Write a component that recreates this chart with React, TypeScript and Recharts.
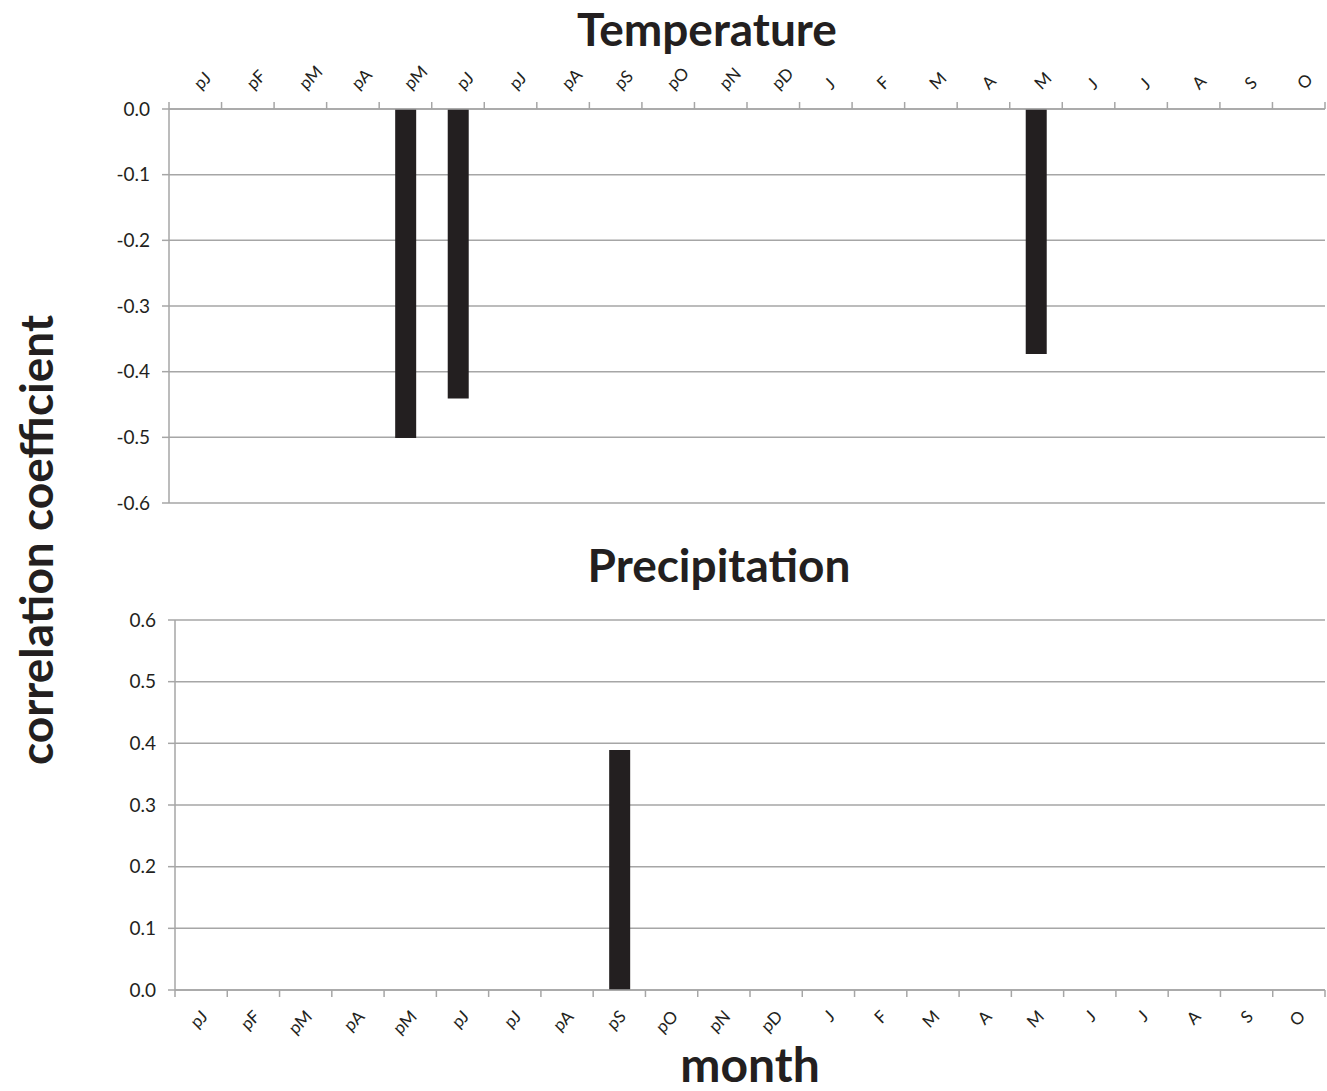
import { BarChart, Bar, XAxis, YAxis, CartesianGrid } from "recharts";

const months = ["pJ", "pF", "pM", "pA", "pM", "pJ", "pJ", "pA", "pS", "pO", "pN", "pD", "J", "F", "M", "A", "M", "J", "J", "A", "S", "O"];
const temperature = [0, 0, 0, 0, -0.501, -0.441, 0, 0, 0, 0, 0, 0, 0, 0, 0, 0, -0.373, 0, 0, 0, 0, 0];
const precipitation = [0, 0, 0, 0, 0, 0, 0, 0, 0.389, 0, 0, 0, 0, 0, 0, 0, 0, 0, 0, 0, 0, 0];
const tempTicks = [0, -0.1, -0.2, -0.3, -0.4, -0.5, -0.6];
const precTicks = [0, 0.1, 0.2, 0.3, 0.4, 0.5, 0.6];

const FONT = "Lato, 'Open Sans', sans-serif";
const GRID = "#a6a6a6";
const BAR = "#231f20";
const TEXT = "#231f20";
const W = 1327;

const tempData = months.map((m, i) => ({ month: m, value: temperature[i] }));
const precData = months.map((m, i) => ({ month: m, value: precipitation[i] }));

// tick marks sit on category boundaries, labels rotated 45deg next to the axis
function MonthTick(props: any) {
  const { x, y, payload, index, top, bw } = props;
  const dir = top ? -1 : 1;
  const left = x - bw / 2;
  const lx = top ? x + 1 : x + 3;
  const ly = top ? y - 23 : y + 23;
  return (
    <g>
      <line x1={left} x2={left} y1={y} y2={y + dir * 7} stroke={GRID} strokeWidth={1.5} />
      {index === months.length - 1 && (
        <line x1={x + bw / 2} x2={x + bw / 2} y1={y} y2={y + dir * 7} stroke={GRID} strokeWidth={1.5} />
      )}
      <text
        x={lx}
        y={ly}
        textAnchor={top ? "start" : "end"}
        dominantBaseline="central"
        transform={`rotate(-45 ${lx} ${ly})`}
        fontSize={17}
        fontFamily={FONT}
        fill={TEXT}
      >
        {payload.value}
      </text>
    </g>
  );
}

const titleStyle: React.CSSProperties = {
  position: "absolute",
  fontFamily: FONT,
  fontWeight: 700,
  fontSize: 46,
  lineHeight: 1,
  color: TEXT,
  whiteSpace: "nowrap",
  transform: "translate(-50%, -50%)",
};

export default function App() {
  const topLeft = 169;
  const topRight = 1325;
  const botLeft = 175;
  const bwTop = (topRight - topLeft) / months.length;
  const bwBot = (topRight - botLeft) / months.length;

  return (
    <div style={{ position: "absolute", left: 0, top: 0, width: W, height: 1091, background: "#fff", overflow: "hidden" }}>
      <div style={{ ...titleStyle, left: 707, top: 29 }}>Temperature</div>
      <div style={{ ...titleStyle, left: 719, top: 565 }}>Precipitation</div>
      <div style={{ ...titleStyle, left: 750, top: 1064, fontSize: 48 }}>month</div>
      <div style={{ ...titleStyle, left: 36, top: 540, transform: "translate(-50%, -50%) rotate(-90deg)" }}>
        correlation coefficient
      </div>

      <div style={{ position: "absolute", left: 0, top: 0 }}>
        <BarChart
          width={W}
          height={520}
          data={tempData}
          margin={{ top: 59, right: W - topRight, left: topLeft - 60, bottom: 17 }}
          barSize={21}
        >
          <CartesianGrid vertical={false} stroke={GRID} strokeWidth={1.5} />
          <XAxis
            dataKey="month"
            orientation="top"
            height={50}
            interval={0}
            tickSize={0}
            tickMargin={0}
            tickLine={false}
            axisLine={{ stroke: GRID, strokeWidth: 1.5 }}
            tick={(p: any) => <MonthTick {...p} top bw={bwTop} />}
          />
          <YAxis
            width={60}
            domain={[-0.6, 0]}
            ticks={tempTicks}
            interval={0}
            tickSize={7}
            tickMargin={12}
            tickFormatter={(v: number) => v.toFixed(1)}
            tick={{ fontSize: 19, fontFamily: FONT, fill: TEXT }}
            tickLine={{ stroke: GRID, strokeWidth: 1.5 }}
            axisLine={{ stroke: GRID, strokeWidth: 1.5 }}
          />
          <Bar dataKey="value" fill={BAR} isAnimationActive={false} />
        </BarChart>
      </div>

      <div style={{ position: "absolute", left: 0, top: 540 }}>
        <BarChart
          width={W}
          height={500}
          data={precData}
          margin={{ top: 80, right: W - topRight, left: botLeft - 60, bottom: 0 }}
          barSize={21}
        >
          <CartesianGrid vertical={false} stroke={GRID} strokeWidth={1.5} />
          <XAxis
            dataKey="month"
            height={50}
            interval={0}
            tickSize={0}
            tickMargin={0}
            tickLine={false}
            axisLine={{ stroke: GRID, strokeWidth: 1.5 }}
            tick={(p: any) => <MonthTick {...p} bw={bwBot} />}
          />
          <YAxis
            width={60}
            domain={[0, 0.6]}
            ticks={precTicks}
            interval={0}
            tickSize={7}
            tickMargin={12}
            tickFormatter={(v: number) => v.toFixed(1)}
            tick={{ fontSize: 19, fontFamily: FONT, fill: TEXT }}
            tickLine={{ stroke: GRID, strokeWidth: 1.5 }}
            axisLine={{ stroke: GRID, strokeWidth: 1.5 }}
          />
          <Bar dataKey="value" fill={BAR} isAnimationActive={false} />
        </BarChart>
      </div>
    </div>
  );
}
